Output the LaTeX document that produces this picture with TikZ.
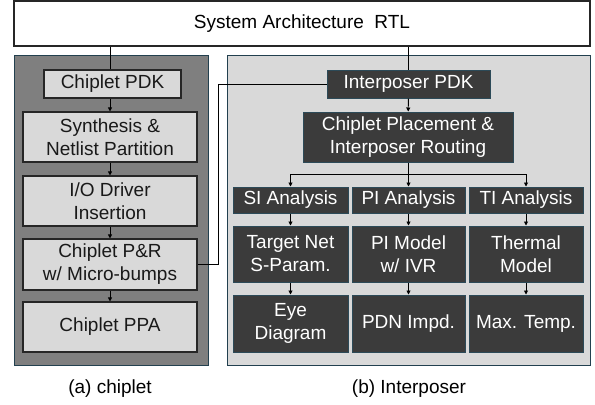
\documentclass[tikz,border=0pt]{standalone}
\usepackage{fontspec}
\setmainfont{Liberation Sans}
\usetikzlibrary{arrows.meta}
\definecolor{panelline}{HTML}{22404F}
\definecolor{darkfill}{HTML}{3B3B3B}
\definecolor{lightfill}{HTML}{D9D9D9}
\definecolor{midfill}{HTML}{7F7F7F}
\definecolor{darkline}{HTML}{2C4A58}
\begin{document}
\begin{tikzpicture}[x=1bp,y=-1bp,
  txt/.style={font=\fontsize{19bp}{23bp}\selectfont, align=center, inner sep=0pt},
  lbox/.style={txt, draw=black!85, line width=1.1bp, fill=lightfill, text=black!90},
  dbox/.style={txt, draw=darkline, line width=1bp, fill=darkfill, text=white},
  panel/.style={draw=panelline, line width=0.9bp},
  link/.style={line width=0.9bp, black},
  arr/.style={link, -{Triangle[length=4bp,width=4bp]}}
]
\useasboundingbox (0,0) rectangle (595,404);

% panels
\fill[white] (0,0) rectangle (595,404);
\draw[panel, fill=midfill] (14,55) rectangle (208.5,365);
\draw[panel, fill=lightfill] (227,55) rectangle (590,365);

% top level
\node[txt, draw=black!85, line width=1.1bp, fill=white, minimum width=576bp, minimum height=45bp] (sys) at (302,23.5) {System Architecture\ \ RTL};

% chiplet flow
\node[lbox, minimum width=137bp, minimum height=28bp] (cpdk) at (112.5,84) {Chiplet PDK};
\node[lbox, minimum width=174bp, minimum height=50bp] (syn) at (110,137) {Synthesis \&\\Netlist Partition};
\node[lbox, minimum width=174bp, minimum height=50bp] (io) at (110,201) {I/O Driver\\Insertion};
\node[lbox, minimum width=174bp, minimum height=51bp] (pr) at (110,264.5) {Chiplet P\&R\\w/ Micro-bumps};
\node[lbox, minimum width=174bp, minimum height=50bp] (ppa) at (110,327) {Chiplet PPA};

% interposer flow
\node[dbox, minimum width=163bp, minimum height=28bp] (ipdk) at (408.5,84) {Interposer PDK};
\node[dbox, minimum width=210bp, minimum height=50bp] (cpr) at (408,137) {Chiplet Placement \&\\Interposer Routing};

\node[dbox, minimum width=115bp, minimum height=26bp] (si) at (290.5,200) {SI Analysis};
\node[dbox, minimum width=113bp, minimum height=26bp] (pi) at (408.5,200) {PI Analysis};
\node[dbox, minimum width=114bp, minimum height=26bp] (ti) at (526,200) {TI Analysis};

\node[dbox, minimum width=115bp, minimum height=56bp] (sim) at (290.5,254) {Target Net\\S-Param.};
\node[dbox, minimum width=113bp, minimum height=56bp] (pim) at (408.5,254) {PI Model\\w/ IVR};
\node[dbox, minimum width=114bp, minimum height=56bp] (tim) at (526,254) {Thermal\\Model};

\node[dbox, minimum width=115bp, minimum height=57bp] (eye) at (290.5,323.5) {Eye\\Diagram};
\node[dbox, minimum width=113bp, minimum height=57bp] (pdn) at (408.5,323.5) {PDN Impd.};
\node[dbox, minimum width=114bp, minimum height=57bp] (tmax) at (526,323.5) {Max. Temp.};

% captions
\node[txt] (capa) at (110,389) {(a) chiplet};
\node[txt] (capb) at (409,389) {(b) Interposer};

% chiplet connectors
\draw[link] (sys.south -| 110,0) -- (cpdk.north -| 110,0);
\draw[arr] (cpdk.south -| 110,0) -- (syn.north);
\draw[arr] (syn) -- (io);
\draw[arr] (io) -- (pr);
\draw[arr] (pr) -- (ppa);

% interposer connectors
\draw[link] (sys.south -| ipdk.north) -- (ipdk.north);
\draw[arr] (ipdk) -- (cpr);
\coordinate (bus) at (408,174);
\draw[link] (cpr.south) -- (bus);
\draw[link] (bus -| si.north) -- (bus -| ti.north);
\draw[arr] (bus -| si.north) -- (si.north);
\draw[arr] (bus -| pi.north) -- (pi.north);
\draw[arr] (bus -| ti.north) -- (ti.north);
\draw[arr] (si) -- (sim);
\draw[arr] (pi) -- (pim);
\draw[arr] (ti) -- (tim);
\draw[arr] (sim) -- (eye);
\draw[arr] (pim) -- (pdn);
\draw[arr] (tim) -- (tmax);

% micro-bump data into the interposer flow
\draw[link] (pr.east) -- ++(21,0) |- (ipdk.west);
\end{tikzpicture}
\end{document}
